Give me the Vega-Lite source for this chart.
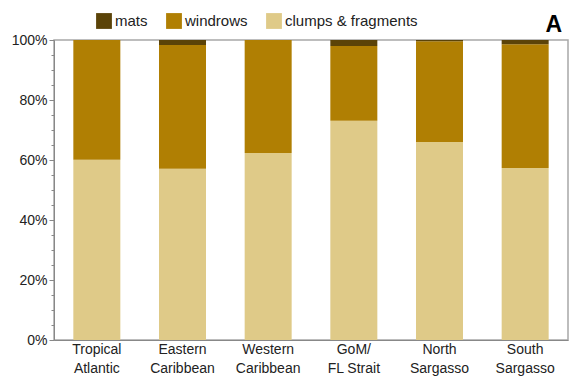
{
  "$schema": "https://vega.github.io/schema/vega-lite/v6.json",
  "autosize": {"type": "none"},
  "width": 514,
  "height": 300,
  "padding": {"left": 54, "top": 40, "right": 18, "bottom": 39},
  "background": "white",
  "title": {
    "text": "A",
    "anchor": "end",
    "frame": "group",
    "orient": "top",
    "baseline": "alphabetic",
    "offset": 10,
    "dy": 52,
    "dx": -6,
    "font": "Liberation Sans",
    "fontSize": 23,
    "fontWeight": "bold",
    "color": "#000000"
  },
  "config": {
    "font": "Liberation Sans",
    "view": {"stroke": "#a8a8a8", "strokeWidth": 1.5},
    "axis": {
      "labelFont": "Liberation Sans",
      "labelFontSize": 14,
      "labelColor": "#222222",
      "domainColor": "#888888",
      "tickColor": "#888888",
      "grid": false,
      "title": null
    },
    "legend": {
      "labelFont": "Liberation Sans",
      "labelFontSize": 15,
      "labelColor": "#222222"
    }
  },
  "data": {
    "values": [
      {"region": "Tropical Atlantic", "type": "clumps & fragments", "tier": 1, "pct": 60.1},
      {"region": "Tropical Atlantic", "type": "windrows", "tier": 2, "pct": 39.9},
      {"region": "Tropical Atlantic", "type": "mats", "tier": 3, "pct": 0},
      {"region": "Eastern Caribbean", "type": "clumps & fragments", "tier": 1, "pct": 57.1},
      {"region": "Eastern Caribbean", "type": "windrows", "tier": 2, "pct": 41.2},
      {"region": "Eastern Caribbean", "type": "mats", "tier": 3, "pct": 1.7},
      {"region": "Western Caribbean", "type": "clumps & fragments", "tier": 1, "pct": 62.3},
      {"region": "Western Caribbean", "type": "windrows", "tier": 2, "pct": 37.7},
      {"region": "Western Caribbean", "type": "mats", "tier": 3, "pct": 0},
      {"region": "GoM/ FL Strait", "type": "clumps & fragments", "tier": 1, "pct": 73.1},
      {"region": "GoM/ FL Strait", "type": "windrows", "tier": 2, "pct": 24.9},
      {"region": "GoM/ FL Strait", "type": "mats", "tier": 3, "pct": 2.0},
      {"region": "North Sargasso", "type": "clumps & fragments", "tier": 1, "pct": 66.0},
      {"region": "North Sargasso", "type": "windrows", "tier": 2, "pct": 33.6},
      {"region": "North Sargasso", "type": "mats", "tier": 3, "pct": 0.4},
      {"region": "South Sargasso", "type": "clumps & fragments", "tier": 1, "pct": 57.3},
      {"region": "South Sargasso", "type": "windrows", "tier": 2, "pct": 41.3},
      {"region": "South Sargasso", "type": "mats", "tier": 3, "pct": 1.4}
    ]
  },
  "mark": {"type": "bar", "size": 47},
  "encoding": {
    "x": {
      "field": "region",
      "type": "nominal",
      "sort": null,
      "scale": {"paddingInner": 0, "paddingOuter": 0},
      "axis": {
        "labelAngle": 0,
        "ticks": false,
        "labelPadding": 2,
        "labelBaseline": "top",
        "labelLineHeight": 19,
        "labelExpr": "[substring(datum.label, 0, indexof(datum.label, ' ')), substring(datum.label, indexof(datum.label, ' ') + 1)]"
      }
    },
    "y": {
      "field": "pct",
      "type": "quantitative",
      "stack": "normalize",
      "scale": {"domain": [0, 1], "nice": false},
      "axis": {
        "values": [0, 0.05, 0.1, 0.15, 0.2, 0.25, 0.3, 0.35, 0.4, 0.45, 0.5, 0.55, 0.6, 0.65, 0.7, 0.75, 0.8, 0.85, 0.9, 0.95, 1],
        "labelExpr": "round(datum.value * 100) % 20 === 0 ? format(datum.value, '.0%') : ''",
        "tickSize": {"condition": {"test": "round(datum.value * 100) % 20 === 0", "value": 5}, "value": 3},
        "labelPadding": 2
      }
    },
    "color": {
      "field": "type",
      "type": "nominal",
      "scale": {
        "domain": ["mats", "windrows", "clumps & fragments"],
        "range": ["#5b4308", "#b07f03", "#dfca88"]
      },
      "legend": {
        "title": null,
        "orient": "none",
        "direction": "horizontal",
        "legendX": 42,
        "legendY": -27,
        "symbolType": "square",
        "symbolSize": 250,
        "symbolStrokeWidth": 0,
        "symbolOpacity": 1,
        "labelOffset": 3,
        "columnPadding": 18
      }
    },
    "order": {"field": "tier", "type": "quantitative"}
  }
}
